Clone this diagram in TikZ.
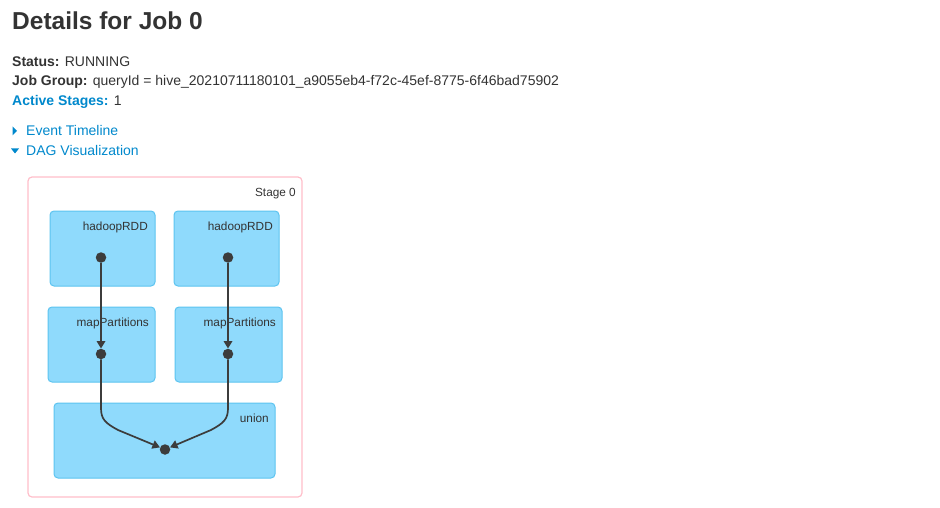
\documentclass[tikz,border=0pt]{standalone}
\usepackage{fontspec}
\setmainfont{Liberation Sans}
\usetikzlibrary{arrows.meta}
\definecolor{linkblue}{RGB}{0,136,204}
\definecolor{textgray}{RGB}{51,51,51}
\definecolor{rddfill}{RGB}{143,218,252}
\definecolor{rddline}{RGB}{92,196,240}
\definecolor{stagepink}{RGB}{255,190,202}
\definecolor{dotgray}{RGB}{60,60,60}
\tikzstyle{title} = [anchor=base west, inner sep=0pt, text=textgray, font=\fontsize{24.5}{28}\selectfont\bfseries]
\tikzstyle{info} = [anchor=base west, inner sep=0pt, text=textgray, font=\fontsize{14}{16}\selectfont]
\tikzstyle{link} = [info, text=linkblue]
\tikzstyle{stage_block} = [rectangle, rounded corners=4pt, draw=stagepink, fill=white, line width=1.2pt]
\tikzstyle{rdd_block} = [rectangle, rounded corners=4pt, draw=rddline, fill=rddfill, minimum height=75pt, line width=1pt]
\tikzstyle{rdd_label} = [anchor=base east, inner sep=0pt, text=textgray, font=\fontsize{11.8}{14}\selectfont]
\tikzstyle{dot} = [circle, fill=dotgray, inner sep=0pt, minimum size=10.5pt]
\tikzstyle{arrow} = [line width=1.7pt, draw=dotgray, -{Triangle[length=7.5pt,width=8.5pt]}]
\begin{document}
\begin{tikzpicture}[x=1pt, y=-1pt]
		\useasboundingbox (0,0) rectangle (940,508);
		% job header
		\node (heading) [title] at (12,30) {Details for Job 0};
		\node (status) [info] at (12,66.5) {\textbf{Status:} RUNNING};
		\node (group) [info] at (12,86) {\textbf{Job Group:} queryId = hive\_20210711180101\_a9055eb4-f72c-45ef-8775-6f46bad75902};
		\node (active) [link] at (12,106) {\textbf{Active Stages:} \textcolor{textgray}{1}};
		\fill [linkblue] (12.5,126.5) -- (17,131) -- (12.5,135.5) -- cycle;
		\node (timeline) [link] at (26,136) {Event Timeline};
		\fill [linkblue] (11,148.5) -- (19,148.5) -- (15,153.5) -- cycle;
		\node (dagviz) [link] at (26,156) {DAG Visualization};

		% stage and rdds
		\node (stage0) [stage_block, minimum width=274pt, minimum height=320pt] at (165,337) {};
		\node (stage0_lbl) [rdd_label] at (296,196.5) {Stage 0};

		\node (hadoop1) [rdd_block, minimum width=105pt] at (102.5,248.5) {};
		\node (hadoop2) [rdd_block, minimum width=105pt] at (226.5,248.5) {};
		\node (map1) [rdd_block, minimum width=107pt] at (101.5,344.5) {};
		\node (map2) [rdd_block, minimum width=107pt] at (228.5,344.5) {};
		\node (union) [rdd_block, minimum width=221pt] at (164.5,440.5) {};

		\node (hadoop1_lbl) [rdd_label] at (148,230.5) {hadoopRDD};
		\node (hadoop2_lbl) [rdd_label] at (273,230.5) {hadoopRDD};
		\node (map1_lbl) [rdd_label] at (149,326.5) {mapPartitions};
		\node (map2_lbl) [rdd_label] at (276,326.5) {mapPartitions};
		\node (union_lbl) [rdd_label] at (269,422) {union};

		\node (hdot1) [dot] at (101,257.5) {};
		\node (hdot2) [dot] at (228,257.5) {};
		\node (mdot1) [dot] at (101,354) {};
		\node (mdot2) [dot] at (228,354) {};
		\node (udot) [dot] at (165,449.5) {};

		\draw [arrow] (hdot1) -- (mdot1);
		\draw [arrow] (hdot2) -- (mdot2);
		\draw [arrow] (mdot1) -- (101,408) .. controls (101,419) and (105,423) .. (118,430) -- (udot);
		\draw [arrow] (mdot2) -- (228,408) .. controls (228,419) and (224,423) .. (211,430) -- (udot);

\end{tikzpicture}
\end{document}
